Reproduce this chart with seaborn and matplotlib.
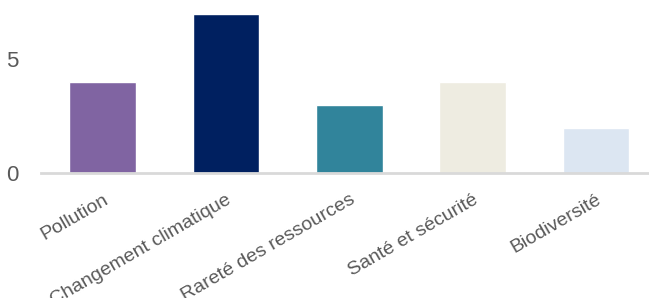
import matplotlib
matplotlib.use("Agg")
import matplotlib.pyplot as plt
import seaborn as sns
import pandas as pd

categories = ["Pollution", "Changement climatique", "Rareté des ressources",
              "Santé et sécurité", "Biodiversité"]
values = [4, 7, 3, 4, 2]
colors = ["#8064A2", "#002060", "#31849B", "#EEECE1", "#DCE6F2"]

sns.set_style("white")
plt.rcParams["font.family"] = ["Liberation Sans", "DejaVu Sans"]

df = pd.DataFrame({"theme": categories, "n": values})

fig = plt.figure(figsize=(6.49, 2.98), dpi=100)
ax = fig.add_axes([41 / 649, 125 / 298, 1 - 41 / 649, 159 / 298])
sns.barplot(data=df, x="theme", y="n", hue="theme", palette=colors,
            width=0.54, legend=False, ax=ax, saturation=1)

ax.set_xlim(-0.5, 4.43)
ax.set_ylim(0, 7)
ax.set_yticks([0, 5])
ax.set_xlabel("")
ax.set_ylabel("")
for s in ["top", "right", "left"]:
    ax.spines[s].set_visible(False)
ax.spines["bottom"].set_color("#D9D9D9")
ax.spines["bottom"].set_linewidth(2)
ax.tick_params(axis="y", labelsize=16, labelcolor="#595959", length=0, pad=16)
ax.tick_params(axis="x", labelsize=14, labelcolor="#595959", length=0, pad=13)
plt.setp(ax.get_xticklabels(), rotation=30, ha="right", rotation_mode="anchor")

fig.savefig("out.png", dpi=100)
